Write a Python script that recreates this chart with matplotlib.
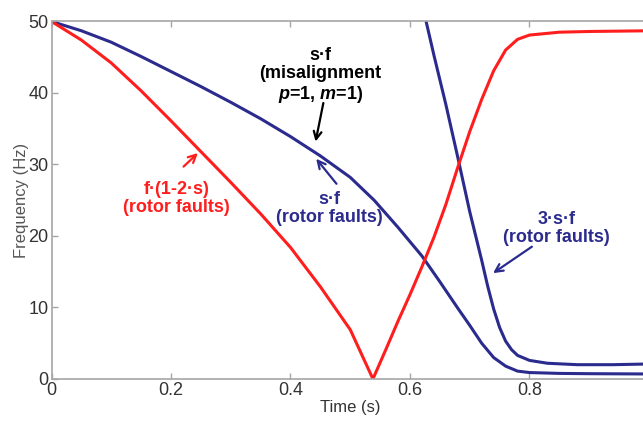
import numpy as np
import matplotlib.pyplot as plt

plt.rcParams['font.family'] = ['Liberation Sans', 'DejaVu Sans']
plt.rcParams['mathtext.fontset'] = 'custom'
plt.rcParams['mathtext.it'] = 'Liberation Sans:italic:bold'
plt.rcParams['mathtext.rm'] = 'Liberation Sans:bold'

# s*f (rotor faults / misalignment)
t_sf = [0, 0.05, 0.1, 0.15, 0.2, 0.25, 0.3, 0.35, 0.4, 0.45, 0.5, 0.54, 0.58,
        0.62, 0.65, 0.68, 0.70, 0.72, 0.74, 0.76, 0.78, 0.80, 0.85, 0.9, 1.0]
sf = [50, 48.7, 47.1, 45.1, 43.0, 40.9, 38.7, 36.4, 33.9, 31.2, 28.2, 25.0, 21.2,
      17.2, 13.6, 9.9, 7.5, 5.0, 3.0, 1.8, 1.1, 0.9, 0.78, 0.74, 0.70]

# f*(1-2s)
t_red = [0, 0.05, 0.1, 0.15, 0.2, 0.25, 0.3, 0.35, 0.4, 0.45, 0.5, 0.538,
         0.56, 0.58, 0.6, 0.62, 0.64, 0.66, 0.68, 0.70, 0.72, 0.74, 0.76, 0.78,
         0.80, 0.85, 0.9, 1.0]
red = [50, 47.4, 44.2, 40.3, 36.1, 31.8, 27.5, 23.1, 18.4, 12.9, 6.9, 0,
       4.2, 8.1, 11.8, 15.7, 19.8, 24.4, 29.6, 34.6, 39.1, 43.1, 46.0, 47.5,
       48.1, 48.5, 48.6, 48.7]

# 3*s*f
t_3sf = [0.627, 0.64, 0.66, 0.68, 0.70, 0.71, 0.72, 0.73, 0.74, 0.75, 0.76,
         0.77, 0.78, 0.80, 0.83, 0.88, 0.94, 1.0]
sf3 = [50, 45.3, 38.4, 31.0, 23.4, 20.0, 16.6, 13.0, 9.8, 7.2, 5.3,
       4.1, 3.3, 2.6, 2.2, 2.0, 2.0, 2.1]

blue = '#2b2b8e'
redc = '#ff1e1e'

fig = plt.figure(figsize=(6.43, 4.21), dpi=100)
ax = fig.add_axes([0.0801, 0.0998, 0.9292, 0.8492])

ax.plot(t_sf, sf, color=blue, lw=2.2)
ax.plot(t_3sf, sf3, color=blue, lw=2.2)
ax.plot(t_red, red, color=redc, lw=2.2)

ax.set_xlim(0, 1)
ax.set_ylim(0, 50)
ax.set_xticks([0, 0.2, 0.4, 0.6, 0.8, 1.0])
ax.set_xticklabels(['0', '0.2', '0.4', '0.6', '0.8', ''])
ax.set_yticks([0, 10, 20, 30, 40, 50])
for s in ax.spines.values():
    s.set_color('#a6a6a6')
    s.set_linewidth(1.2)
ax.tick_params(direction='in', length=4, width=1, colors='#a6a6a6',
               labelcolor='#333333', labelsize=13, top=True, right=True, pad=2)
ax.set_xlabel('Time (s)', fontsize=12, color='#333333', labelpad=1)
ax.set_ylabel('Frequency (Hz)', fontsize=12, color='#555555', labelpad=0)

tk = dict(fontsize=13, fontweight='bold', ha='center', va='center', linespacing=1.1)
ax.text(0.45, 42.4, 's·f\n(misalignment\n$p$=1, $m$=1)', color='black', **tk)
ax.text(0.209, 25.2, 'f·(1-2·s)\n(rotor faults)', color=redc, **tk)
ax.text(0.465, 23.8, 's·f\n(rotor faults)', color=blue, **tk)
ax.text(0.845, 21.0, '3·s·f\n(rotor faults)', color=blue, **tk)

ap = dict(arrowstyle='->', lw=1.6, mutation_scale=14, shrinkA=0, shrinkB=0)
ax.annotate('', xy=(0.442, 33.2), xytext=(0.455, 38.6), arrowprops=dict(color='black', **ap))
ax.annotate('', xy=(0.245, 31.6), xytext=(0.221, 29.7), arrowprops=dict(color=redc, **ap))
ax.annotate('', xy=(0.443, 30.8), xytext=(0.477, 27.3), arrowprops=dict(color=blue, **ap))
ax.annotate('', xy=(0.739, 14.8), xytext=(0.804, 18.5), arrowprops=dict(color=blue, **ap))

fig.savefig('out.png', dpi=100)
